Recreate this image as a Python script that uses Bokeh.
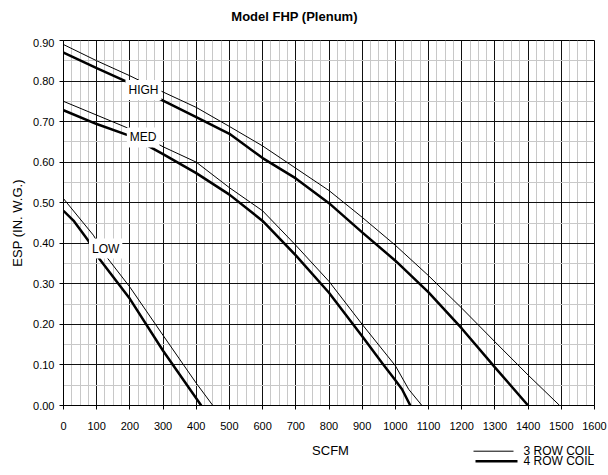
from bokeh.plotting import figure
from bokeh.layouts import column
from bokeh.models import Range1d, FixedTicker, Label
from bokeh.embed import file_html
from bokeh.resources import INLINE

# Fan performance curves, external static pressure vs. airflow
high_3row_cfm = [0, 100, 200, 300, 400, 500, 600, 700, 800, 900, 1000, 1100, 1200, 1300, 1400, 1495]
high_3row_esp = [0.89, 0.85, 0.813, 0.773, 0.735, 0.688, 0.64, 0.585, 0.53, 0.464, 0.395, 0.32, 0.24, 0.157, 0.075, 0.0]

high_4row_cfm = [0, 100, 200, 300, 400, 500, 600, 700, 800, 900, 1000, 1100, 1200, 1300, 1400]
high_4row_esp = [0.87, 0.832, 0.795, 0.752, 0.711, 0.67, 0.61, 0.56, 0.499, 0.427, 0.357, 0.279, 0.19, 0.094, 0.0]

med_3row_cfm = [0, 100, 200, 300, 400, 500, 600, 700, 800, 900, 1000, 1040, 1080]
med_3row_esp = [0.75, 0.716, 0.682, 0.638, 0.60, 0.537, 0.48, 0.395, 0.306, 0.20, 0.098, 0.04, 0.0]

med_4row_cfm = [0, 100, 200, 300, 400, 500, 600, 700, 800, 900, 960, 1000, 1020, 1045]
med_4row_esp = [0.728, 0.694, 0.665, 0.62, 0.573, 0.52, 0.455, 0.37, 0.278, 0.171, 0.105, 0.062, 0.04, 0.0]

low_3row_cfm = [0, 90, 130, 200, 300, 400, 450]
low_3row_esp = [0.51, 0.42, 0.366, 0.292, 0.173, 0.055, 0.0]

low_4row_cfm = [0, 30, 75, 105, 200, 300, 415]
low_4row_esp = [0.48, 0.456, 0.406, 0.365, 0.263, 0.135, 0.0]

speed_labels = ["HIGH", "MED", "LOW"]
speed_label_cfm = [241, 240, 127]
speed_label_esp = [0.778, 0.661, 0.387]

x_ticks = [0, 100, 200, 300, 400, 500, 600, 700, 800, 900, 1000, 1100, 1200, 1300, 1400, 1500, 1600]
x_tick_labels = [str(t) for t in x_ticks]
y_ticks = [0.0, 0.1, 0.2, 0.3, 0.4, 0.5, 0.6, 0.7, 0.8, 0.9]
y_tick_labels = ["0.00", "0.10", "0.20", "0.30", "0.40", "0.50", "0.60", "0.70", "0.80", "0.90"]

legend_labels = ["3 ROW COIL", "4 ROW COIL"]

FONT = "Liberation Sans"
THIN = 1.0
THICK = 2.5
LEFT, RIGHT = 63, 14   # plot-area margins, shared by every strip of the layout
WIDTH = 608


def pixel_strip(height):
    """A bare strip whose x units are page pixels and y units pixels from its top."""
    f = figure(width=WIDTH, height=height, output_backend="svg", toolbar_location=None,
               x_range=Range1d(LEFT, WIDTH - RIGHT), y_range=Range1d(height, 0),
               x_axis_location=None, y_axis_location=None,
               min_border_left=LEFT, min_border_right=RIGHT,
               min_border_top=0, min_border_bottom=0)
    f.outline_line_color = None
    f.grid.visible = False
    f.background_fill_color = "white"
    f.border_fill_color = "white"
    return f


# header strip with the chart title
head = pixel_strip(38)
head.add_layout(Label(x=294, y=16, text="Model FHP (Plenum)", text_align="center",
                      text_baseline="middle", text_font=FONT, text_font_size="13px",
                      text_font_style="bold", text_color="black"))

p = figure(width=WIDTH, height=402, output_backend="svg", toolbar_location=None,
           x_range=Range1d(0, 1600), y_range=Range1d(0, 0.9),
           min_border_left=LEFT, min_border_right=RIGHT, min_border_top=2, min_border_bottom=35)
p.background_fill_color = "white"
p.border_fill_color = "white"
p.outline_line_color = "black"
p.outline_line_width = 1

# grid: bold lines every 100 CFM / 0.10 in., light lines every 25 CFM / 0.05 in.
x_minor = [v for v in range(0, 1601, 25) if v % 100 != 0]
y_minor = [round(0.05 + 0.1 * i, 2) for i in range(9)]
p.xaxis.ticker = FixedTicker(ticks=x_ticks, minor_ticks=x_minor)
p.yaxis.ticker = FixedTicker(ticks=y_ticks, minor_ticks=y_minor)
p.xaxis.major_label_overrides = {t: s for t, s in zip(x_ticks, x_tick_labels)}
p.yaxis.major_label_overrides = {t: s for t, s in zip(y_ticks, y_tick_labels)}

for g in (p.xgrid, p.ygrid):
    g.grid_line_color = "#111111"
    g.grid_line_width = 1
    g.minor_grid_line_color = "#c8c8c8"
    g.minor_grid_line_width = 1

for ax in (p.xaxis, p.yaxis):
    ax.axis_line_color = "black"
    ax.major_tick_line_color = "black"
    ax.major_tick_out = 4
    ax.major_tick_in = 0
    ax.minor_tick_line_color = None
    ax.major_label_text_font = FONT
    ax.major_label_text_font_size = "11px"
    ax.major_label_text_color = "black"
    ax.axis_label_text_font = FONT
    ax.axis_label_text_font_size = "13px"
    ax.axis_label_text_font_style = "normal"
    ax.axis_label_text_color = "black"

p.xaxis.major_label_standoff = 12
p.yaxis.axis_label = "ESP (IN. W.G.)"
p.yaxis.axis_label_standoff = 5

curves = [
    (high_3row_cfm, high_3row_esp, THIN),
    (high_4row_cfm, high_4row_esp, THICK),
    (med_3row_cfm, med_3row_esp, THIN),
    (med_4row_cfm, med_4row_esp, THICK),
    (low_3row_cfm, low_3row_esp, THIN),
    (low_4row_cfm, low_4row_esp, THICK),
]
for xs, ys, w in curves:
    p.line(xs, ys, line_color="black", line_width=w)

for txt, cx, cy in zip(speed_labels, speed_label_cfm, speed_label_esp):
    p.add_layout(Label(x=cx, y=cy, text=txt, text_align="center", text_baseline="middle",
                       text_font=FONT, text_font_size="12px", text_color="black",
                       background_fill_color="white", padding=3))

# footer strip: x-axis title and the coil legend
foot = pixel_strip(35)
foot.add_layout(Label(x=330, y=10, text="SCFM", text_align="center", text_baseline="middle",
                      text_font=FONT, text_font_size="13px", text_color="black"))

legend_rows = [(10.7, THIN, 473, 513), (20.7, THICK, 475, 517)]
for (ly, w, x0, x1), txt in zip(legend_rows, legend_labels):
    foot.line([x0, x1], [ly, ly], line_color="black", line_width=w)
    foot.add_layout(Label(x=523, y=ly, text=txt, text_align="left", text_baseline="middle",
                          text_font=FONT, text_font_size="12px", text_color="black"))

layout = column(head, p, foot, spacing=0)
open("out.html", "w").write(file_html(layout, INLINE))
